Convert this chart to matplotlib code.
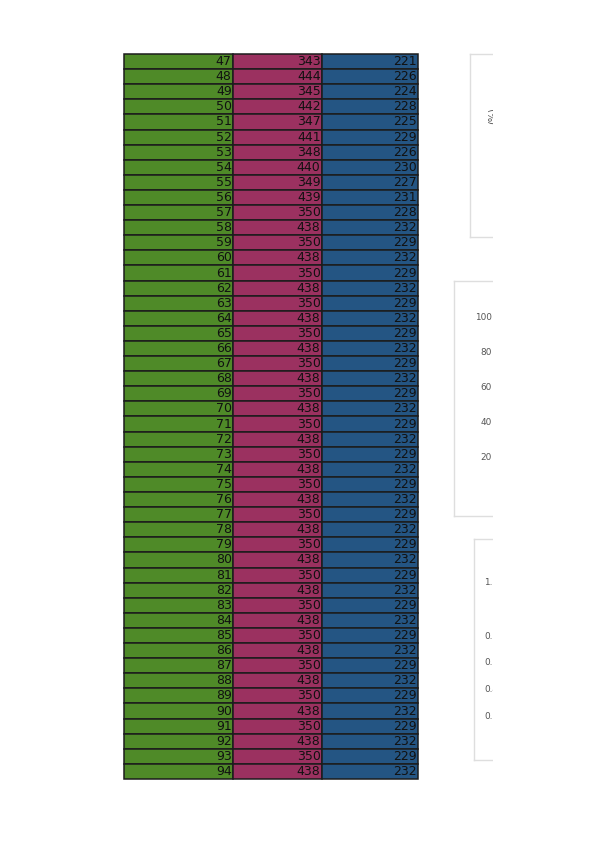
import matplotlib
matplotlib.use("Agg")
import matplotlib.pyplot as plt
from matplotlib.patches import Rectangle

# table values, rows 47..94
row_ids = list(range(47, 95))
col_b = [343, 444, 345, 442, 347, 441, 348, 440, 349, 439] + [350, 438] * 19
col_c = [221, 226, 224, 228, 225, 229, 226, 230, 227, 231, 228, 232] + [229, 232] * 18

col_colors = ["#4f8a28", "#9b3160", "#245583"]
col_widths = [109, 89, 96]

# tick labels of the side panels (cut off at the right)
mid_ticks = [20, 40, 60, 80, 100]
low_ticks = [0.2, 0.4, 0.6, 0.8, 1.2]

W, H = 599, 848
fig = plt.figure(figsize=(W / 100, H / 100), dpi=100)


def fig_box(x0, y0, x1, y1):
    # pixel box (top-left origin) -> figure fraction rect
    return [x0 / W, 1 - y1 / H, (x1 - x0) / W, (y1 - y0) / H]


# --- main table ---
ax = fig.add_axes(fig_box(124, 54, 418, 779))
ax.axis("off")
cells = [[str(a), str(b), str(c)] for a, b, c in zip(row_ids, col_b, col_c)]
colours = [col_colors for _ in cells]
tw = sum(col_widths)
tbl = ax.table(cellText=cells, cellColours=colours, cellLoc="right",
               colWidths=[w / tw for w in col_widths], bbox=[0, 0, 1, 1])
tbl.auto_set_font_size(False)
for (r, c), cell in tbl.get_celld().items():
    cell.PAD = 0.012 if c == 0 else 0.016
    cell.set_edgecolor("#1c1c1c")
    cell.set_linewidth(1.1)
    cell.get_text().set_fontsize(9)
    cell.get_text().set_color("#111111")

# --- side panels (cropped) ---
spine_col = "#dedede"
for (x0, y0, y1) in [(470, 54, 237), (454, 281, 516), (474, 539, 760)]:
    p = fig.add_axes(fig_box(x0, y0, 560, y1))
    p.set_xticks([])
    p.set_yticks([])
    p.spines["right"].set_visible(False)
    for s in ("left", "top", "bottom"):
        p.spines[s].set_color(spine_col)
        p.spines[s].set_linewidth(1.0)

# rotated label fragment in the first panel
fig.text(488 / W, 1 - 116 / H, "(%)", rotation=90, fontsize=7,
         color="#555555", ha="left", va="center")

# middle panel axis
a2 = fig.add_axes(fig_box(497, 291, 560, 491))
a2.set_ylim(0, 114.3)
a2.set_yticks(mid_ticks)
a2.set_yticklabels([str(t) for t in mid_ticks])
a2.tick_params(axis="y", length=0, pad=4, labelsize=6.4, labelcolor="#555555")
a2.set_xticks([])
for s in a2.spines.values():
    s.set_visible(False)
a2.patch.set_alpha(0)

# lower panel axis
a3 = fig.add_axes(fig_box(504, 555, 560, 742))
a3.set_ylim(0.0, 1.4)
a3.set_yticks(low_ticks)
a3.set_yticklabels([f"{t:.1f}" for t in low_ticks])
a3.tick_params(axis="y", length=0, pad=4, labelsize=6.4, labelcolor="#555555")
a3.set_xticks([])
for s in a3.spines.values():
    s.set_visible(False)
a3.patch.set_alpha(0)

# the picture is cut off at the right
fig.add_artist(Rectangle((492.5 / W, 0), 1, 1, transform=fig.transFigure,
                         facecolor="white", edgecolor="none", zorder=10))

fig.savefig("out.png", dpi=100)
